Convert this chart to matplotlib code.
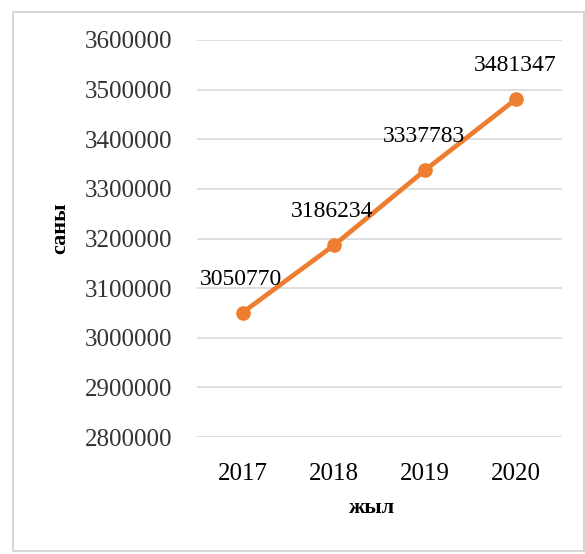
import matplotlib.pyplot as plt
from matplotlib.patches import Rectangle

plt.rcParams["font.family"] = ["Liberation Serif", "DejaVu Serif"]

years = ["2017", "2018", "2019", "2020"]
counts = [3050770, 3186234, 3337783, 3481347]
y_ticks = [2800000, 2900000, 3000000, 3100000, 3200000, 3300000, 3400000, 3500000, 3600000]

ORANGE = "#ED7D31"
GRID = "#d9d9d9"

fig = plt.figure(figsize=(5.85, 5.54), dpi=100)
W, H = 585, 554
ax = fig.add_axes([197 / W, 1 - 437 / H, (562 - 197) / W, (437 - 40) / H])

x = list(range(len(years)))
ax.plot(x, counts, color=ORANGE, linewidth=3.4, marker="o", markersize=9.5, zorder=3)
for xi, v in zip(x, counts):
    ax.annotate(str(v), (xi, v), xytext=(-1, 24), textcoords="offset points",
                ha="center", va="center", fontsize=17)

ax.set_xlim(-0.5, len(years) - 0.5)
ax.set_ylim(y_ticks[0], y_ticks[-1])
ax.set_xticks(x)
ax.set_xticklabels(years, fontsize=18)
ax.set_yticks(y_ticks)
ax.set_yticklabels([str(t) for t in y_ticks], fontsize=18, color="#333333")
ax.tick_params(length=0)
ax.tick_params(axis="y", pad=18)
ax.tick_params(axis="x", pad=19)
ax.grid(axis="y", color=GRID, linewidth=1.2)
ax.set_axisbelow(True)
for s in ax.spines.values():
    s.set_visible(False)

fig.text(372 / W, 1 - 508 / H, "жыл", ha="center", va="center",
         fontsize=16, fontweight="bold")
fig.text(60 / W, 1 - 228 / H, "саны", ha="center", va="center",
         fontsize=16, fontweight="bold", rotation=90)

fig.patches.append(Rectangle((13 / W, 3 / H), 571 / W, 539 / H,
                             transform=fig.transFigure, fill=False,
                             edgecolor="#d0d0d0", linewidth=1.2))

fig.savefig("out.png", dpi=100)
